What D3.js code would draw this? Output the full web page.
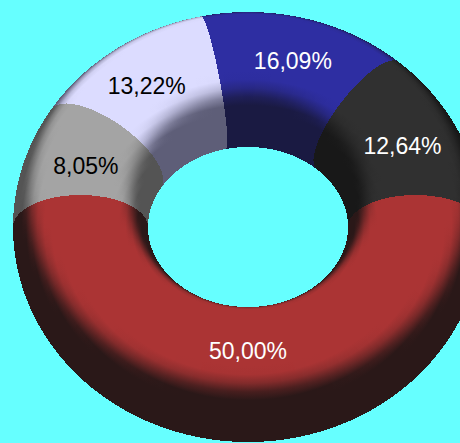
<!DOCTYPE html>
<html>
<head>
<meta charset="utf-8">
<script src="https://cdn.jsdelivr.net/npm/d3@7/dist/d3.min.js"></script>
<style>
  body { margin: 0; background: #66ffff; }
</style>
</head>
<body>
<div id="chart"></div>
<script>
// slices, clockwise from 9 o'clock
var categories = ["A", "B", "C", "D", "E"];
var values = [8.05, 13.22, 16.09, 12.64, 50.00];

// colours: lit side, shadow side, label
var lightColors = ["#a4a4a4", "#dcdcff", "#2e2ea2", "#303030", "#ab3434"];
var darkColors  = ["#545454", "#5e5e78", "#1a1a42", "#181818", "#2a1818"];
var labelColors = ["#000", "#000", "#fff", "#fff", "#fff"];

function DonutChart(id) {

    d3.select(id).select("svg").remove();

    var width = 460, height = 443;
    var cx = 248, cy = 227;
    var R = 167.5, r = 67.5;                 // ring radius, tube radius
    var sinE = 147.5 / 167.5, cosE = Math.sqrt(1 - sinE * sinE);
    var lam = 10 * Math.PI / 180;            // light tilted a little to the back

    var svg = d3.select(id)
                .append("svg")
                .attr("width", width)
                .attr("height", height)
                .style("background", "#66ffff");
    var defs = svg.append("defs");

    // point on the torus -> screen
    function project(phi, theta) {
        var rho = R + r * Math.cos(theta);
        return [cx + rho * Math.cos(phi),
                cy - (rho * Math.sin(phi) * sinE + r * Math.sin(theta) * cosE)];
    }
    // screen angle of the slice -> angle round the torus
    function phiOf(t) { return Math.atan2(Math.sin(t) / sinE, Math.cos(t)); }

    var K = 24;
    // visible half of the tube section at phi, outer edge first
    function section(phi) {
        var alpha = Math.atan2(-cosE * Math.sin(phi), sinE);
        var pts = [];
        for (var k = 0; k <= K; k++) {
            var th = Math.PI * k / K - alpha;
            var p = project(phi, th);
            p.theta = th;
            pts.push(p);
        }
        return pts;
    }
    function shade(phi, th) {
        var ny = Math.cos(th) * Math.sin(phi), nz = Math.sin(th);
        var d = ny * Math.sin(lam) + nz * Math.cos(lam);
        var s = Math.max(0, Math.min(1, (d - 0.5) / 0.32));
        return s * s * (3 - 2 * s);
    }

    var pie = d3.pie().sort(null).startAngle(-Math.PI / 2).endAngle(3 * Math.PI / 2);
    var arcs = pie(values);

    var step = Math.PI / 180;
    var wedges = [];
    arcs.forEach(function(a, si) {
        var ta = Math.PI / 2 - a.startAngle, tb = Math.PI / 2 - a.endAngle;
        var n = Math.max(2, Math.ceil((ta - tb) / step));
        var curves = d3.range(n + 1).map(function(i) { return section(phiOf(ta + (tb - ta) * i / n)); });
        for (var i = 0; i < n; i++) {
            var phiMid = phiOf(ta + (tb - ta) * (i + 0.5) / n);
            wedges.push({
                slice: si,
                phi: phiMid,
                mid: section(phiMid),
                pts: curves[i].concat(curves[i + 1].slice().reverse())
            });
        }
    });
    // far side first
    wedges.sort(function(a, b) { return Math.sin(b.phi) - Math.sin(a.phi); });

    var grads = defs.selectAll("linearGradient")
        .data(wedges)
        .join("linearGradient")
        .attr("id", function(d, i) { return "g" + i; })
        .attr("gradientUnits", "userSpaceOnUse")
        .attr("x1", function(d) { return d.mid[0][0]; })
        .attr("y1", function(d) { return d.mid[0][1]; })
        .attr("x2", function(d) { return d.mid[K][0]; })
        .attr("y2", function(d) { return d.mid[K][1]; });

    grads.selectAll("stop")
        .data(function(d) {
            var o = d.mid[0], q = d.mid[K];
            var vx = q[0] - o[0], vy = q[1] - o[1], len2 = vx * vx + vy * vy;
            var col = d3.interpolateRgb(darkColors[d.slice], lightColors[d.slice]);
            var last = 0;
            return d.mid.map(function(p) {
                var f = ((p[0] - o[0]) * vx + (p[1] - o[1]) * vy) / len2;
                f = Math.max(last, Math.min(1, f)); last = f;
                return { offset: f, color: col(shade(d.phi, p.theta)) };
            });
        })
        .join("stop")
        .attr("offset", function(d) { return d.offset; })
        .attr("stop-color", function(d) { return d.color; });

    var line = d3.line().curve(d3.curveLinearClosed);
    svg.selectAll("path.wedge")
        .data(wedges)
        .join("path")
        .attr("class", "wedge")
        .attr("d", function(d) { return line(d.pts); })
        .attr("fill", function(d, i) { return "url(#g" + i + ")"; })
        .attr("stroke", "none")
        .style("shape-rendering", "crispEdges");

    // labels, placed by the slice's mid angle on the screen
    var fmt = d3.formatLocale({ decimal: ",", thousands: ".", grouping: [3], currency: ["", ""] }).format(".2%");
    function midT(d) { return Math.PI / 2 - (d.startAngle + d.endAngle) / 2; }
    svg.selectAll("text.label")
        .data(arcs)
        .join("text")
        .attr("class", "label")
        .attr("x", function(d) { return cx + R * Math.cos(midT(d)); })
        .attr("y", function(d) { return cy - R * sinE * Math.sin(midT(d)) - 24; })
        .attr("text-anchor", "middle")
        .attr("dominant-baseline", "central")
        .style("font-family", "'Liberation Sans', Arial, sans-serif")
        .style("font-size", "23px")
        .style("fill", function(d, i) { return labelColors[i]; })
        .text(function(d) { return fmt(d.value / 100); });
}

DonutChart("#chart");
</script>
</body>
</html>
